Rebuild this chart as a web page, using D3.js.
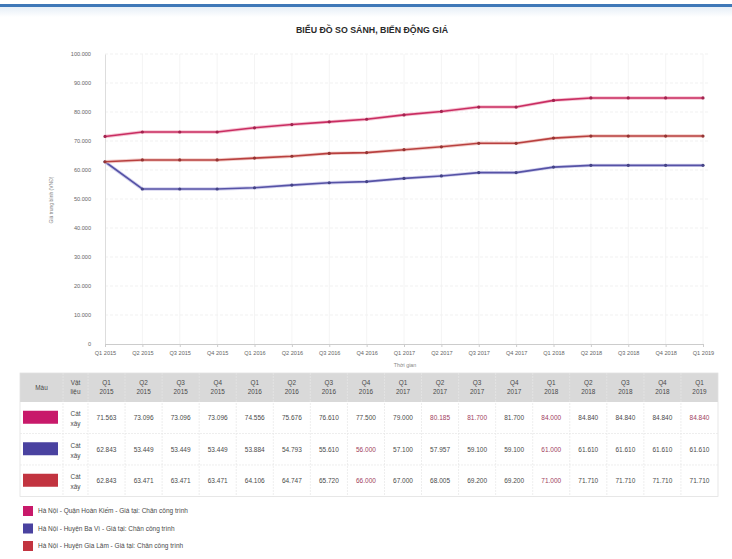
<!DOCTYPE html>
<html>
<head>
<meta charset="utf-8">
<script src="https://cdn.jsdelivr.net/npm/d3@7"></script>
<style>
  html, body { margin: 0; padding: 0; background: #fff; }
  svg { display: block; font-family: "Liberation Sans", Arial, sans-serif; }
</style>
</head>
<body>
<svg id="chart" width="732" height="559"></svg>
<script>
// Quarters shown on the x axis and in the table header
const quarters = ["Q1 2015","Q2 2015","Q3 2015","Q4 2015","Q1 2016","Q2 2016","Q3 2016","Q4 2016",
                  "Q1 2017","Q2 2017","Q3 2017","Q4 2017","Q1 2018","Q2 2018","Q3 2018","Q4 2018","Q1 2019"];

// Average price of construction sand (VND) per district
const hoanKiem = [71563,73096,73096,73096,74556,75676,76610,77500,79000,80185,81700,81700,84000,84840,84840,84840,84840];
const baVi     = [62843,53449,53449,53449,53884,54793,55610,56000,57100,57957,59100,59100,61000,61610,61610,61610,61610];
const giaLam   = [62843,63471,63471,63471,64106,64747,65720,66000,67000,68005,69200,69200,71000,71710,71710,71710,71710];

const seriesNames = [
  "Hà Nội - Quận Hoàn Kiếm - Giá tại: Chân công trình",
  "Hà Nội - Huyện Ba Vì - Giá tại: Chân công trình",
  "Hà Nội - Huyện Gia Lâm - Giá tại: Chân công trình"
];
const material = "Cát xây";
const yTicks = [0,10000,20000,30000,40000,50000,60000,70000,80000,90000,100000];
// Cells whose value is emphasised in the table
const emphasised = [[9,10,12,16],[7,12],[7,12]];

const series = [
  {name: seriesNames[0], values: hoanKiem, line: "#c92d62", swatch: "#c8196a", glow: "#f3b6c8"},
  {name: seriesNames[1], values: baVi,     line: "#5653a6", swatch: "#4a42a0", glow: "#c9c7ea"},
  {name: seriesNames[2], values: giaLam,   line: "#b8403f", swatch: "#c23440", glow: "#efc0bd"}
];

const fmt = d3.formatLocale({decimal: ",", thousands: ".", grouping: [3], currency: ["", ""]}).format(",d");

const svg = d3.select("#chart");

// Header strip
svg.append("rect").attr("x", 0).attr("y", 4).attr("width", 732).attr("height", 3).attr("fill", "#3f78b8");
const grad = svg.append("defs").append("linearGradient").attr("id", "fade").attr("x1", 0).attr("x2", 0).attr("y1", 0).attr("y2", 1);
grad.append("stop").attr("offset", 0).attr("stop-color", "#e6eef7");
grad.append("stop").attr("offset", 1).attr("stop-color", "#ffffff");
svg.append("rect").attr("x", 0).attr("y", 7).attr("width", 732).attr("height", 10).attr("fill", "url(#fade)");

svg.append("text")
  .attr("x", 372).attr("y", 33)
  .attr("text-anchor", "middle")
  .attr("font-size", 8.8).attr("font-weight", "bold").attr("fill", "#2a2a2a")
  .text("BIỂU ĐỒ SO SÁNH, BIẾN ĐỘNG GIÁ");

// Scales
const x = d3.scalePoint().domain(quarters).range([105, 703]);
const y = d3.scaleLinear().domain([0, 100000]).range([344, 54]);

// Grid
const grid = svg.append("g");
grid.selectAll("line.h").data(yTicks.slice(1)).join("line")
  .attr("x1", 105).attr("x2", 710)
  .attr("y1", d => y(d)).attr("y2", d => y(d))
  .attr("stroke", "#eeeeee").attr("stroke-width", 0.8).attr("stroke-dasharray", "3,2");
grid.selectAll("line.v").data(quarters.slice(1)).join("line")
  .attr("x1", d => x(d)).attr("x2", d => x(d))
  .attr("y1", 54).attr("y2", 344)
  .attr("stroke", "#f1f1f1").attr("stroke-width", 0.8);

// Y axis
const yAxis = svg.append("g").attr("transform", "translate(105,0)")
  .call(d3.axisLeft(y).tickValues(yTicks).tickFormat(fmt).tickSize(0).tickPadding(14));
yAxis.select(".domain").attr("stroke", "#dddddd");
yAxis.selectAll("text").attr("font-size", 5.6).attr("fill", "#666").attr("font-family", "Liberation Sans, Arial");

svg.append("text")
  .attr("transform", "translate(53,200) rotate(-90)")
  .attr("text-anchor", "middle")
  .attr("font-size", 5).attr("fill", "#888")
  .text("Giá trung bình (VNĐ)");

// X axis
const xAxis = svg.append("g").attr("transform", "translate(0,344)")
  .call(d3.axisBottom(x).tickSize(3).tickPadding(4));
xAxis.select(".domain").attr("stroke", "#cccccc");
xAxis.selectAll(".tick line").attr("stroke", "#cccccc");
xAxis.selectAll("text").attr("font-size", 5.6).attr("fill", "#666").attr("font-family", "Liberation Sans, Arial");

svg.append("text")
  .attr("x", 405).attr("y", 367)
  .attr("text-anchor", "middle")
  .attr("font-size", 5.4).attr("fill", "#888")
  .text("Thời gian");

// Lines
const line = d3.line().x((d, i) => x(quarters[i])).y(d => y(d));
const lines = svg.append("g");
series.forEach(s => {
  lines.append("path").datum(s.values).attr("d", line)
    .attr("fill", "none").attr("stroke", s.glow).attr("stroke-width", 3.4).attr("stroke-opacity", 0.8);
  lines.append("path").datum(s.values).attr("d", line)
    .attr("fill", "none").attr("stroke", s.line).attr("stroke-width", 1.6);
  lines.append("g").selectAll("circle").data(s.values).join("circle")
    .attr("cx", (d, i) => x(quarters[i])).attr("cy", d => y(d)).attr("r", 1.6)
    .attr("fill", d3.color(s.line).darker(0.6));
});

// Table
const tX0 = 20, tX1 = 718, colorW = 43, matW = 25;
const qW = (tX1 - tX0 - colorW - matW) / quarters.length;
const headTop = 373, headH = 29, rowH = 31.5;
const colX = i => tX0 + colorW + matW + i * qW;
const table = svg.append("g");

table.append("rect").attr("x", tX0).attr("y", headTop).attr("width", tX1 - tX0).attr("height", headH).attr("fill", "#d9d9d9");
table.append("rect").attr("x", tX0).attr("y", headTop).attr("width", tX1 - tX0).attr("height", headH + rowH * 3)
  .attr("fill", "none").attr("stroke", "#e2e2e2").attr("stroke-width", 0.8);

// Column separators
const seps = [tX0 + colorW, tX0 + colorW + matW].concat(quarters.slice(1).map((q, i) => colX(i + 1)));
table.selectAll("line.col").data(seps).join("line")
  .attr("x1", d => d).attr("x2", d => d)
  .attr("y1", headTop).attr("y2", headTop + headH + rowH * 3)
  .attr("stroke", "#e6e6e6").attr("stroke-width", 0.7).attr("stroke-dasharray", "2,1");
table.selectAll("line.row").data([1, 2]).join("line")
  .attr("x1", tX0).attr("x2", tX1)
  .attr("y1", d => headTop + headH + d * rowH).attr("y2", d => headTop + headH + d * rowH)
  .attr("stroke", "#e6e6e6").attr("stroke-width", 0.7).attr("stroke-dasharray", "2,1");

const headStyle = sel => sel.attr("font-size", 6.4).attr("fill", "#4a4a4a").attr("text-anchor", "middle");
headStyle(table.append("text").attr("x", tX0 + colorW / 2).attr("y", headTop + 17).text("Màu"));
headStyle(table.append("text").attr("x", tX0 + colorW + matW / 2).attr("y", headTop + 12).text("Vật"));
headStyle(table.append("text").attr("x", tX0 + colorW + matW / 2).attr("y", headTop + 21).text("liệu"));
quarters.forEach((q, i) => {
  const [qq, yr] = q.split(" ");
  headStyle(table.append("text").attr("x", colX(i) + qW / 2).attr("y", headTop + 12).text(qq));
  headStyle(table.append("text").attr("x", colX(i) + qW / 2).attr("y", headTop + 21).text(yr));
});

series.forEach((s, r) => {
  const top = headTop + headH + r * rowH;
  table.append("rect").attr("x", tX0 + 3).attr("y", top + rowH / 2 - 7).attr("width", 35).attr("height", 13)
    .attr("fill", s.swatch);
  const [m1, m2] = material.split(" ");
  headStyle(table.append("text").attr("x", tX0 + colorW + matW / 2).attr("y", top + 14).text(m1));
  headStyle(table.append("text").attr("x", tX0 + colorW + matW / 2).attr("y", top + 24).text(m2));
  table.append("g").selectAll("text").data(s.values).join("text")
    .attr("x", (d, i) => colX(i) + qW / 2).attr("y", top + rowH / 2 + 2.5)
    .attr("text-anchor", "middle").attr("font-size", 6.5)
    .attr("fill", (d, i) => emphasised[r].includes(i) ? "#a0405e" : "#4a4a4a")
    .text(d => fmt(d));
});

// Legend
const legend = svg.append("g");
series.forEach((s, i) => {
  const cy = 511 + i * 17.5;
  legend.append("rect").attr("x", 23).attr("y", cy - 5).attr("width", 10).attr("height", 10).attr("fill", s.swatch);
  legend.append("text").attr("x", 38).attr("y", cy + 2.2)
    .attr("font-size", 6.5).attr("fill", "#4a4a4a").text(s.name);
});
</script>
</body>
</html>
